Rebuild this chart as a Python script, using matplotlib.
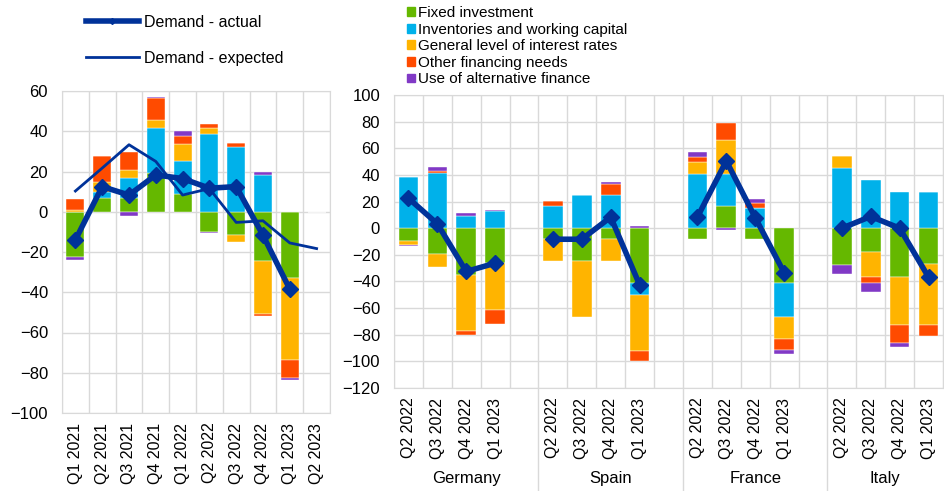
import numpy as np
import matplotlib
matplotlib.use('Agg')
import matplotlib.pyplot as plt
from matplotlib.lines import Line2D
from matplotlib.patches import Patch

plt.rcParams['font.family'] = ['Liberation Sans', 'DejaVu Sans']
plt.rcParams['font.size'] = 10.5

series_names = ['Fixed investment', 'Inventories and working capital',
                'General level of interest rates', 'Other financing needs',
                'Use of alternative finance']
series_colors = ['#65B800', '#00B1EA', '#FFB400', '#FF4B00', '#8139C6']
line_color = '#003299'
grid_color = '#d9d9d9'

# euro area panel
ea_quarters = ['Q1 2021', 'Q2 2021', 'Q3 2021', 'Q4 2021', 'Q1 2022',
               'Q2 2022', 'Q3 2022', 'Q4 2022', 'Q1 2023', 'Q2 2023']
ea_fixed = [-22.5, 7, 7, 19.2, 8.7, -10, -11.7, -24.7, -33, 0]
ea_inventories = [0, 2.7, 9.7, 22.6, 16.3, 38.7, 32.2, 18.2, 0, 0]
ea_rates = [1, 5, 4.1, 3.7, 8.8, 3.1, -3.1, -26.1, -40.8, 0]
ea_other = [5.3, 12.8, 8.7, 10.8, 4, 2, 2.1, -1.2, -8.7, 0]
ea_alternative = [-1.5, 0.3, -2, 0.9, 2.2, -0.4, 0, 1.5, -1.2, 0]
ea_actual = [-14, 12.5, 8.3, 18.3, 16.5, 11.7, 12.5, -11.7, -38.5, np.nan]
ea_expected = [10.3, 21.7, 33.3, 25, 8.3, 11.5, -5.3, -4.5, -15.5, -18.3]

# country panel, four quarters per country
countries = ['Germany', 'Spain', 'France', 'Italy']
country_quarters = ['Q2 2022', 'Q3 2022', 'Q4 2022', 'Q1 2023']
cty_fixed = [-9.5, -19.3, -35.3, -26,
             -8, -25, -8, -41.5,
             -8, 16.3, -8, -41.3,
             -27.5, -18, -36.5, -27]
cty_inventories = [38.3, 41.3, 9.5, 12.8,
                   16.3, 24.8, 24.8, -8.5,
                   41, 24.7, 15.5, -25.2,
                   45, 36.3, 26.8, 26.8]
cty_rates = [-3, -9.5, -42.2, -35.3,
             -17, -41.5, -17, -42,
             8.8, 25.3, 0, -16.8,
             9.3, -18.5, -36.3, -45.8]
cty_other = [0, 1.7, -3, -11,
             4.2, 0, 8.2, -8,
             3.7, 12.5, 3.3, -8,
             0, -4.5, -13.5, -8.5]
cty_alternative = [-1, 3.3, 1.8, 0.5,
                   0, 0, 1.8, 1.5,
                   3.8, -1.5, 3.2, -3.2,
                   -6.8, -7, -3.2, 0]
cty_actual = [22.5, 3.3, -32.5, -26.3,
              -8.3, -8.3, 8.3, -42.5,
              8.3, 50.5, 8, -33.3,
              0, 8.8, 0, -36.8]


def stacked_bars(ax, x, layers, width):
    pos = np.zeros(len(x))
    neg = np.zeros(len(x))
    for vals, c in zip(layers, series_colors):
        vals = np.asarray(vals, dtype=float)
        base = np.where(vals >= 0, pos, neg)
        ax.bar(x, vals, width, bottom=base, color=c, edgecolor='white',
               linewidth=0.3, zorder=2)
        pos += np.clip(vals, 0, None)
        neg += np.clip(vals, None, 0)


def style_axes(ax, n):
    ax.set_xlim(-0.5, n - 0.5)
    ax.set_xticks(np.arange(-0.5, n, 1), minor=True)
    ax.grid(True, axis='y', color=grid_color, linewidth=1, zorder=0)
    ax.grid(True, axis='x', which='minor', color=grid_color, linewidth=1, zorder=0)
    ax.grid(False, axis='x', which='major')
    ax.tick_params(which='both', length=0)
    ax.tick_params(axis='y', pad=10, labelsize=12)
    ax.tick_params(axis='x', pad=7, labelsize=11.5)
    for s in ax.spines.values():
        s.set_color(grid_color)
    ax.set_axisbelow(True)


def main():
    fig = plt.figure(figsize=(9.44, 4.91), dpi=100)

    # left panel
    ax1 = fig.add_axes([62 / 944, 1 - 413 / 491, 268 / 944, 322 / 491])
    x1 = np.arange(len(ea_quarters))
    stacked_bars(ax1, x1, [ea_fixed, ea_inventories, ea_rates, ea_other, ea_alternative], 0.67)
    ax1.plot(x1, ea_expected, color=line_color, linewidth=2, zorder=3)
    ax1.plot(x1, ea_actual, color=line_color, linewidth=4, marker='D',
             markersize=8, zorder=4)
    ax1.set_ylim(-100, 60)
    ax1.set_yticks(np.arange(-100, 61, 20))
    ax1.set_xticks(x1)
    ax1.set_xticklabels(ea_quarters, rotation=90)
    style_axes(ax1, len(ea_quarters))

    # right panel
    ax2 = fig.add_axes([394 / 944, 1 - 388 / 491, 549 / 944, 293 / 491])
    n_slots = len(countries) * 5 - 1
    x2 = np.array([c * 5 + q for c in range(len(countries))
                   for q in range(len(country_quarters))])
    stacked_bars(ax2, x2, [cty_fixed, cty_inventories, cty_rates, cty_other, cty_alternative], 0.68)
    for c in range(len(countries)):
        sl = slice(c * 4, c * 4 + 4)
        ax2.plot(x2[sl], cty_actual[sl], color=line_color, linewidth=4,
                 marker='D', markersize=8, zorder=4)
    ax2.set_ylim(-120, 100)
    ax2.set_yticks(np.arange(-120, 101, 20))
    ax2.set_xticks(x2)
    ax2.set_xticklabels(country_quarters * len(countries), rotation=90)
    style_axes(ax2, n_slots)

    trans = ax2.get_xaxis_transform()
    for c, name in enumerate(countries):
        ax2.text(c * 5 + 2 - (0.5 if c == len(countries) - 1 else 0), -0.31, name,
                 transform=trans, ha='center', va='center', fontsize=12)
        if c > 0:
            ax2.plot([c * 5 - 0.5] * 2, [0, -0.36], transform=trans,
                     color=grid_color, linewidth=1, clip_on=False)

    # legends
    line_handles = [Line2D([], [], color=line_color, linewidth=4, marker='D', markersize=3),
                    Line2D([], [], color=line_color, linewidth=2)]
    fig.legend(line_handles, ['Demand - actual', 'Demand - expected'],
               loc='upper left', bbox_to_anchor=(86 / 944, 1 - 15 / 491),
               frameon=False, fontsize=11.5, handlelength=3.3, handletextpad=0.3,
               labelspacing=1.3, borderpad=0, borderaxespad=0)

    patch_handles = [Patch(color=c) for c in series_colors]
    fig.legend(patch_handles, series_names, loc='upper left',
               bbox_to_anchor=(407 / 944, 1 - 6 / 491), frameon=False,
               fontsize=11, handlelength=0.5, handleheight=0.5,
               handletextpad=0.25, labelspacing=0.17, borderpad=0,
               borderaxespad=0)

    fig.savefig('out.png', dpi=100)


if __name__ == "__main__":
    main()
